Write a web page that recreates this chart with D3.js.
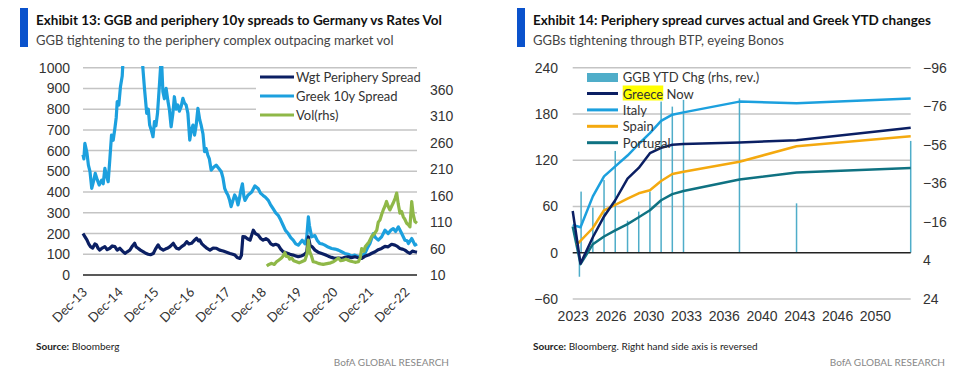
<!DOCTYPE html>
<html>
<head>
<meta charset="utf-8">
<script src="https://cdn.jsdelivr.net/npm/d3@7"></script>
<style>
    body { margin: 0; background: #fff; }
    svg { font-family: Lato, "Open Sans", sans-serif; }
</style>
</head>
<body>
<div id="chart"></div>
<script>
// ---- Exhibit 13 data (bp, vol on rhs) ----
const greekSpread = [
["2013-12-01",580],["2013-12-10",560],["2013-12-20",635],["2014-01-10",590],["2014-01-25",530],["2014-02-10",500],["2014-02-28",418],["2014-03-20",455],["2014-04-05",490],["2014-04-25",460],["2014-05-15",434],["2014-06-10",458],["2014-06-25",440],["2014-07-12",514],["2014-07-28",480],["2014-08-15",450],["2014-09-01",560],["2014-09-18",675],["2014-10-05",650],["2014-10-22",707],["2014-11-05",760],["2014-11-15",836],["2014-12-01",820],["2014-12-18",908],["2015-01-05",960],["2015-01-15",1050],["2015-02-10",1150],["2015-03-10",1100],["2015-04-10",1300],["2015-05-10",1200],["2015-06-10",1500],["2015-07-10",1700],["2015-07-28",1050],["2015-08-05",990],["2015-08-20",900],["2015-09-12",780],["2015-09-28",800],["2015-10-12",723],["2015-10-28",700],["2015-11-15",667],["2015-11-30",740],["2015-12-15",720],["2015-12-31",780],["2016-01-20",920],["2016-02-08",1060],["2016-02-24",884],["2016-03-10",850],["2016-03-28",900],["2016-04-15",840],["2016-05-01",796],["2016-05-18",715],["2016-06-05",780],["2016-06-20",860],["2016-07-08",800],["2016-07-25",820],["2016-08-10",790],["2016-08-28",812],["2016-09-15",852],["2016-10-01",830],["2016-10-18",820],["2016-11-05",780],["2016-11-24",651],["2016-12-10",700],["2016-12-27",723],["2017-01-12",675],["2017-01-28",720],["2017-02-15",804],["2017-03-05",750],["2017-03-20",723],["2017-04-08",680],["2017-04-24",595],["2017-05-10",610],["2017-05-27",579],["2017-06-12",560],["2017-06-30",506],["2017-07-25",520],["2017-08-20",530],["2017-09-15",515],["2017-10-12",498],["2017-10-28",470],["2017-11-15",418],["2017-12-01",400],["2017-12-18",386],["2018-01-05",360],["2018-01-20",330],["2018-02-08",360],["2018-02-25",386],["2018-03-15",370],["2018-03-31",338],["2018-04-15",370],["2018-04-30",410],
["2018-05-15",440],["2018-05-30",380],["2018-06-10",360],["2018-07-10",385],["2018-08-18",400],["2018-09-20",430],["2018-10-24",416],["2018-11-15",395],["2018-12-12",384],["2019-01-05",375],["2019-02-03",360],["2019-02-25",340],["2019-03-24",320],["2019-04-20",300],["2019-05-15",288],["2019-06-10",265],["2019-07-04",240],["2019-07-28",215],["2019-08-25",200],["2019-09-20",180],["2019-10-15",168],["2019-11-10",150],["2019-12-06",144],["2020-01-15",168],["2020-02-12",150],["2020-03-01",180],["2020-03-18",280],["2020-03-28",240],["2020-04-20",184],["2020-05-24",190],["2020-06-15",168],["2020-07-12",152],["2020-08-05",150],["2020-09-02",144],["2020-10-05",135],["2020-11-10",128],["2020-12-15",125],["2021-01-18",120],["2021-02-20",112],["2021-03-25",104],["2021-04-28",100],["2021-06-02",91],["2021-07-05",96],["2021-08-10",88],["2021-09-12",94],["2021-10-16",104],["2021-11-10",130],["2021-12-06",152],["2022-01-10",200],["2022-02-01",180],["2022-03-01",168],["2022-04-04",184],["2022-05-08",216],["2022-06-10",200],["2022-07-05",215],["2022-08-01",224],["2022-08-25",210],["2022-09-22",232],["2022-10-26",200],["2022-11-28",168],["2022-12-20",165],["2023-01-03",152],["2023-02-05",176],["2023-02-22",160],["2023-03-10",144],["2023-03-31",150]
];

const wgtPeriphery = [
["2013-12-01",200],["2013-12-20",185],["2014-01-10",169],["2014-01-28",150],["2014-02-15",137],["2014-03-10",130],["2014-04-01",150],["2014-04-18",145],["2014-05-05",128],["2014-05-21",120],["2014-06-15",130],["2014-07-12",137],["2014-08-05",122],["2014-09-01",129],["2014-09-25",140],["2014-10-22",137],["2014-11-15",120],["2014-12-12",129],["2015-01-08",115],["2015-02-02",104],["2015-02-25",112],["2015-03-24",120],["2015-04-20",140],["2015-05-12",153],["2015-05-28",135],["2015-06-15",129],["2015-07-10",120],["2015-08-06",113],["2015-09-01",105],["2015-09-27",100],["2015-10-20",98],["2015-11-18",104],["2015-12-10",125],["2016-01-06",145],["2016-01-25",130],["2016-02-28",120],["2016-03-20",125],["2016-04-15",130],["2016-05-06",137],["2016-06-09",153],["2016-06-25",140],["2016-07-12",129],["2016-08-05",125],["2016-09-02",137],["2016-09-28",145],["2016-10-24",161],["2016-11-15",150],["2016-12-12",153],["2017-01-05",165],["2017-02-02",177],["2017-02-20",165],["2017-03-06",169],["2017-03-28",150],["2017-04-27",137],["2017-05-20",128],["2017-06-18",120],["2017-07-20",130],["2017-08-24",129],["2017-09-25",120],["2017-10-31",116],["2017-12-05",110],["2018-01-08",104],["2018-02-05",100],["2018-02-28",96],["2018-03-22",85],["2018-04-20",80],["2018-05-05",95],["2018-05-20",185],["2018-06-10",184],["2018-07-05",175],["2018-08-01",168],["2018-09-03",216],["2018-09-25",200],["2018-10-24",192],["2018-11-20",175],["2018-12-12",168],["2019-01-10",175],["2019-02-03",168],["2019-03-01",150],["2019-03-24",144],["2019-04-20",148],["2019-05-15",144],["2019-06-10",125],["2019-07-04",112],["2019-07-28",108],["2019-08-25",104],["2019-09-20",98],["2019-10-15",96],["2019-11-10",92],["2019-12-06",88],["2020-01-05",92],["2020-01-28",96],["2020-03-01",110],["2020-03-18",184],["2020-04-04",144],["2020-04-28",135],["2020-05-24",120],["2020-06-25",110],["2020-08-01",104],["2020-09-05",98],["2020-10-07",91],["2020-11-10",85],["2020-12-15",80],["2021-01-20",82],["2021-02-22",80],["2021-03-25",85],["2021-04-28",88],["2021-06-01",84],["2021-07-06",88],["2021-08-10",83],["2021-09-13",80],["2021-10-15",90],["2021-11-20",96],["2021-12-25",105],["2022-01-28",112],["2022-03-01",122],["2022-04-04",128],["2022-05-08",138],["2022-06-10",136],["2022-07-15",148],["2022-08-18",144],["2022-09-12",138],["2022-10-08",128],["2022-11-01",125],["2022-11-28",120],["2022-12-20",112],["2023-01-18",104],["2023-02-12",115],["2023-03-10",112],["2023-03-31",110]
];

const ratesVol = [
["2019-01-18",27],["2019-02-10",30],["2019-03-10",32],["2019-04-05",30],["2019-04-28",35],["2019-05-20",38],["2019-06-18",42],["2019-07-05",46],["2019-07-22",52],["2019-08-08",45],["2019-08-25",45],["2019-09-10",40],["2019-09-30",42],["2019-10-20",37],["2019-11-18",35],["2019-12-15",33],["2020-01-09",35],["2020-02-12",38],["2020-03-05",50],["2020-03-18",76],["2020-03-30",55],["2020-04-20",45],["2020-05-06",35],["2020-06-01",34],["2020-06-27",32],["2020-07-20",31],["2020-08-17",30],["2020-09-10",31],["2020-10-07",32],["2020-11-01",33],["2020-11-28",35],["2020-12-20",38],["2021-01-18",42],["2021-02-10",37],["2021-03-09",38],["2021-04-05",40],["2021-04-28",38],["2021-05-25",36],["2021-06-18",35],["2021-07-15",34],["2021-08-10",35],["2021-08-28",42],["2021-09-13",60],["2021-10-05",55],["2021-10-20",64],["2021-11-03",67],["2021-11-25",72],["2021-12-24",83],["2022-01-20",88],["2022-02-14",95],["2022-03-01",110],["2022-03-18",114],["2022-04-05",125],["2022-04-21",133],["2022-05-08",140],["2022-05-24",149],["2022-06-10",140],["2022-06-27",133],["2022-07-15",140],["2022-07-31",146],["2022-08-20",155],["2022-09-05",165],["2022-09-20",145],["2022-10-08",127],["2022-10-25",130],["2022-11-11",120],["2022-11-28",115],["2022-12-15",108],["2023-01-03",105],["2023-01-18",101],["2023-02-05",149],["2023-02-20",125],["2023-03-10",111],["2023-03-31",108]
];

const leftTicks13 = [0, 100, 200, 300, 400, 500, 600, 700, 800, 900, 1000];
const rightTicks13 = [10, 60, 110, 160, 210, 260, 310, 360];
const xTickDates13 = ["2013-12-01","2014-12-01","2015-12-01","2016-12-01","2017-12-01","2018-12-01","2019-12-01","2020-12-01","2021-12-01","2022-12-01"];

// ---- Exhibit 14 data (maturity in years, spread bp / YTD chg bp) ----
const maturities = [2023.0, 2023.7, 2024.8, 2025.8, 2026.8, 2027.9, 2028.9, 2029.9, 2030.9, 2031.9, 2032.9, 2037.9, 2043.0, 2053.2];
const greeceNow  = [54, -14, 20, 47, 68, 96, 110, 129, 136, 140, 141, 143, 146, 162];
const italy      = [36, 33, 73, 99, 112, 126, 141, 155, 171, 179, 182, 196, 194, 200];
const portugal   = [34, -15, 11, 21, 29, 37, 46, 55, 68, 76, 80, 95, 104, 110];
const spainMat   = [2023.35, 2024.8, 2025.8, 2026.8, 2027.9, 2028.9, 2029.9, 2030.9, 2031.9, 2032.9, 2037.9, 2043.0, 2053.2];
const spain      = [10, 32, 55, 62, 70, 77, 81, 93, 102, 105, 118, 138, 151];
const ggbMat     = [2023.6, 2023.75, 2024.8, 2025.8, 2026.8, 2027.9, 2028.9, 2029.9, 2030.9, 2031.9, 2032.9, 2037.9, 2043.0, 2053.2];
const ggbYtdChg  = [12.5, -31.7, -23.4, -37.7, -52.8, -16.6, -21.3, -31.7, -78.4, -75.8, -79.3, -80.1, -25.6, -58];

const leftTicks14 = [-60, 0, 60, 120, 180, 240];
const rightTicks14 = [24, 4, -16, -36, -56, -76, -96];
const xTickPos14 = [2023, 2026.375, 2029.75, 2033.125, 2036.5, 2039.875, 2043.25, 2046.625, 2050];
const xTickLabels14 = ["2023", "2026", "2030", "2033", "2036", "2040", "2043", "2046", "2050"];

const parseDate = d3.timeParse("%Y-%m-%d");
const gridColor = "#c4c4c4";
const textColor = "#333";

const svg = d3.select("#chart").append("svg")
    .attr("width", 958)
    .attr("height", 376);

function header(x, title, subtitle) {
    svg.append("rect").attr("x", x).attr("y", 8).attr("width", 8).attr("height", 39).attr("fill", "#0a52cc");
    svg.append("text").attr("x", x + 16).attr("y", 25)
        .attr("font-size", 13.5).attr("font-weight", 700).attr("fill", "#111").text(title);
    svg.append("text").attr("x", x + 16).attr("y", 45)
        .attr("font-size", 13).attr("fill", "#444").text(subtitle);
}

function footer(x, right, source) {
    let t = svg.append("text").attr("x", x).attr("y", 350).attr("font-size", 10).attr("fill", "#222");
    t.append("tspan").attr("font-weight", 700).text("Source:");
    t.append("tspan").text("  " + source);
    svg.append("text").attr("x", right).attr("y", 366).attr("text-anchor", "end")
        .attr("font-size", 10).attr("fill", "#888").text("BofA GLOBAL RESEARCH");
}

function drawExhibit13() {
    header(20, "Exhibit 13: GGB and periphery 10y spreads to Germany vs Rates Vol",
        "GGB tightening to the periphery complex outpacing market vol");

    const x = d3.scaleTime().domain([parseDate("2013-12-01"), parseDate("2023-03-31")]).range([83, 417]);
    const y = d3.scaleLinear().domain([0, 1000]).range([275, 67.7]);
    const y2 = d3.scaleLinear().domain([10, 402]).range([275, 67.7]);

    const g = svg.append("g");

    g.selectAll(".grid13").data(leftTicks13.slice(1)).join("line")
        .attr("x1", 83).attr("x2", 417)
        .attr("y1", d => y(d)).attr("y2", d => y(d))
        .attr("stroke", gridColor).attr("stroke-width", 1.5);

    const yAxis = d3.axisLeft(y).tickValues(leftTicks13).tickFormat(d3.format("d")).tickSize(0).tickPadding(0);
    g.append("g").attr("transform", "translate(70,0)").call(yAxis)
        .call(a => a.select(".domain").remove())
        .selectAll("text").attr("font-size", 14).attr("fill", textColor).attr("font-family", null);

    const yAxis2 = d3.axisRight(y2).tickValues(rightTicks13).tickSize(0).tickPadding(0);
    g.append("g").attr("transform", "translate(430,0)").call(yAxis2)
        .call(a => a.select(".domain").remove())
        .selectAll("text").attr("font-size", 14).attr("fill", textColor).attr("font-family", null);

    svg.append("clipPath").attr("id", "clip13").append("rect")
        .attr("x", 80).attr("y", 66).attr("width", 340).attr("height", 212);

    const line = d3.line().x(d => x(parseDate(d[0]))).y(d => y(d[1]));
    const line2 = d3.line().x(d => x(parseDate(d[0]))).y(d => y2(d[1]));

    const lines = g.append("g").attr("clip-path", "url(#clip13)");
    lines.append("path").datum(greekSpread).attr("d", line)
        .attr("fill", "none").attr("stroke", "#1ca0de").attr("stroke-width", 3.2).attr("stroke-linejoin", "round");
    lines.append("path").datum(wgtPeriphery).attr("d", line)
        .attr("fill", "none").attr("stroke", "#0b1f63").attr("stroke-width", 3.2).attr("stroke-linejoin", "round");
    lines.append("path").datum(ratesVol).attr("d", line2)
        .attr("fill", "none").attr("stroke", "#8fb848").attr("stroke-width", 3.2).attr("stroke-linejoin", "round");

    g.append("line").attr("x1", 83).attr("x2", 417).attr("y1", y(0)).attr("y2", y(0))
        .attr("stroke", "#222").attr("stroke-width", 1.5);

    g.selectAll(".xlab13").data(xTickDates13).join("text")
        .attr("transform", d => `translate(${x(parseDate(d)) + 5}, 293) rotate(-45)`)
        .attr("text-anchor", "end").attr("font-size", 13).attr("fill", textColor)
        .text(d => d3.timeFormat("Dec-%y")(parseDate(d)));

    // legend
    const legend = [
        {name: "Wgt Periphery Spread", color: "#0b1f63"},
        {name: "Greek 10y Spread", color: "#1ca0de"},
        {name: "Vol(rhs)", color: "#8fb848"}
    ];
    g.append("rect").attr("x", 256).attr("y", 70).attr("width", 163).attr("height", 52).attr("fill", "#fff");
    legend.forEach((l, i) => {
        let ly = 77 + i * 19;
        g.append("line").attr("x1", 260).attr("x2", 294).attr("y1", ly).attr("y2", ly)
            .attr("stroke", l.color).attr("stroke-width", 3);
        g.append("text").attr("x", 296).attr("y", ly + 5).attr("font-size", 13).attr("fill", textColor).text(l.name);
    });

    footer(36, 449, "Bloomberg");
}

function drawExhibit14() {
    header(517, "Exhibit 14: Periphery spread curves actual and Greek YTD changes",
        "GGBs tightening through BTP, eyeing Bonos");

    const x = d3.scaleLinear().domain([2023.0, 2053.2]).range([572.7, 910.7]);
    const y = d3.scaleLinear().domain([-60, 240]).range([298.9, 67.7]);
    const y2 = d3.scaleLinear().domain([24, -96]).range([298.9, 67.7]);

    const g = svg.append("g");

    g.selectAll(".grid14").data(leftTicks14.filter(d => d !== 0)).join("line")
        .attr("x1", 572.7).attr("x2", 910.7)
        .attr("y1", d => y(d)).attr("y2", d => y(d))
        .attr("stroke", gridColor).attr("stroke-width", 1.5);

    const yAxis = d3.axisLeft(y).tickValues(leftTicks14).tickSize(0).tickPadding(0);
    g.append("g").attr("transform", "translate(558,0)").call(yAxis)
        .call(a => a.select(".domain").remove())
        .selectAll("text").attr("font-size", 14).attr("fill", textColor).attr("font-family", null);

    const yAxis2 = d3.axisRight(y2).tickValues(rightTicks14).tickSize(0).tickPadding(0);
    g.append("g").attr("transform", "translate(923,0)").call(yAxis2)
        .call(a => a.select(".domain").remove())
        .selectAll("text").attr("font-size", 14).attr("fill", textColor).attr("font-family", null);

    const xAxis = d3.axisBottom(x).tickValues(xTickPos14).tickSize(0).tickPadding(0)
        .tickFormat((d, i) => xTickLabels14[i]);
    g.append("g").attr("transform", "translate(0,311)").call(xAxis)
        .call(a => a.select(".domain").remove())
        .selectAll("text").attr("font-size", 14).attr("fill", textColor).attr("font-family", null);

    // GGB YTD change bars (rhs, reversed)
    g.selectAll(".bar14").data(ggbMat).join("rect")
        .attr("x", d => x(d) - 0.75)
        .attr("width", 1.5)
        .attr("y", (d, i) => Math.min(y2(ggbYtdChg[i]), y2(0)))
        .attr("height", (d, i) => Math.abs(y2(ggbYtdChg[i]) - y2(0)))
        .attr("fill", "#4fadc9");

    g.append("line").attr("x1", 572.7).attr("x2", 910.7).attr("y1", y(0)).attr("y2", y(0))
        .attr("stroke", "#222").attr("stroke-width", 1.5);

    const series = [
        {name: "Portugal", xs: maturities, vals: portugal, color: "#0f7282"},
        {name: "Spain", xs: spainMat, vals: spain, color: "#f4a90f"},
        {name: "Italy", xs: maturities, vals: italy, color: "#1ca0de"},
        {name: "Greece Now", xs: maturities, vals: greeceNow, color: "#0b1f63"}
    ];
    const line = d3.line().x(d => x(d[0])).y(d => y(d[1]));
    series.forEach(s => {
        g.append("path").datum(s.xs.map((m, i) => [m, s.vals[i]])).attr("d", line)
            .attr("fill", "none").attr("stroke", s.color).attr("stroke-width", 2.5).attr("stroke-linejoin", "round");
    });

    // legend
    g.append("rect").attr("x", 587).attr("y", 73).attr("width", 31).attr("height", 9).attr("fill", "#4fadc9");
    g.append("text").attr("x", 622.7).attr("y", 82).attr("font-size", 13).attr("fill", textColor)
        .text("GGB YTD Chg (rhs, rev.)");

    const legendLines = [series[3], series[2], series[1], series[0]];
    legendLines.forEach((s, i) => {
        let ly = 93.5 + i * 16.4;
        if (s.name === "Greece Now") {
            let tmp = g.append("text").attr("font-size", 13).text("Greece");
            let w = tmp.node().getComputedTextLength();
            tmp.remove();
            g.append("rect").attr("x", 622.7).attr("y", ly - 8).attr("width", w).attr("height", 15).attr("fill", "#ffff00");
        }
        g.append("line").attr("x1", 587).attr("x2", 618).attr("y1", ly).attr("y2", ly)
            .attr("stroke", s.color).attr("stroke-width", 3);
        g.append("text").attr("x", 622.7).attr("y", ly + 5).attr("font-size", 13).attr("fill", textColor).text(s.name);
    });

    footer(533, 945, "Bloomberg. Right hand side axis is reversed");
}

drawExhibit13();
drawExhibit14();
</script>
</body>
</html>
